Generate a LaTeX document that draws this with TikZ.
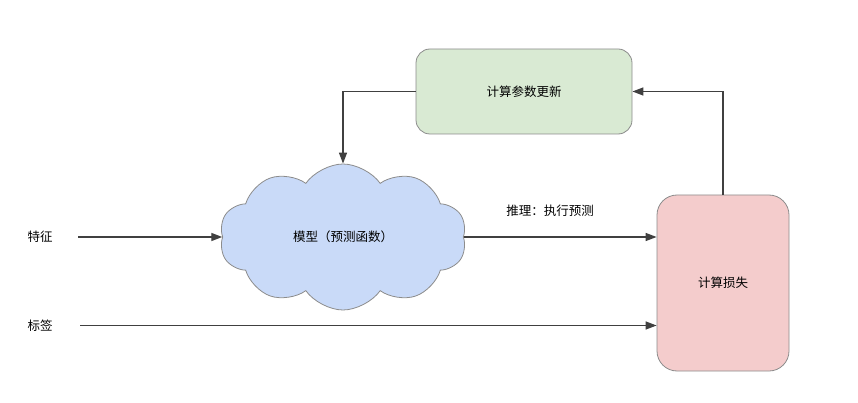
\documentclass[tikz,border=0pt]{standalone}
\usepackage{fontspec}
\setmainfont{Noto Sans CJK SC}
\usetikzlibrary{shapes.symbols,arrows.meta}
\definecolor{gfill}{HTML}{D9EAD3}
\definecolor{pfill}{HTML}{F4CCCC}
\definecolor{bfill}{HTML}{C9DAF8}
\definecolor{edge}{HTML}{8C8C8C}
\definecolor{arr}{HTML}{404040}
\begin{document}
\begin{tikzpicture}[x=1pt,y=-1pt,
  box/.style={draw=edge,line width=0.8pt,rounded corners=14pt,font=\fontsize{12.5}{14}\selectfont,inner sep=0pt},
  lbl/.style={font=\fontsize{12.5}{14}\selectfont,inner sep=1pt},
  conn/.style={draw=arr,line width=1.4pt,-{Triangle[length=11pt,width=8pt]}}]
\useasboundingbox (0,0) rectangle (858,403);
\node[box,fill=gfill,minimum width=216pt,minimum height=85pt] (green) at (524,91.5) {计算参数更新};
\node[box,fill=pfill,rounded corners=20pt,minimum width=132pt,minimum height=176pt] (pink) at (723,283) {计算损失};
\node[cloud,cloud puffs=10,cloud puff arc=110,cloud ignores aspect,draw=edge,line width=0.8pt,fill=bfill,
  minimum width=247pt,minimum height=146pt,inner sep=0pt,font=\fontsize{12.5}{14}\selectfont] (cloud) at (343,237) {模型（预测函数）};
\node[lbl] (feat) at (40,237) {特征};
\node[lbl] (label) at (40,326) {标签};
\coordinate (fs) at (78,237);
\coordinate (ls) at (80,325.5);
\node[lbl] (infer) at (550,211) {推理：执行预测};
\draw[conn] (fs) -- (fs -| cloud.west);
\draw[conn] (ls) -- (ls -| pink.west);
\draw[conn] (fs -| cloud.east) -- (fs -| pink.west);
\draw[conn] (pink.north) |- (green.east);
\draw[conn] (green.west) -| (cloud.north);
\end{tikzpicture}
\end{document}
